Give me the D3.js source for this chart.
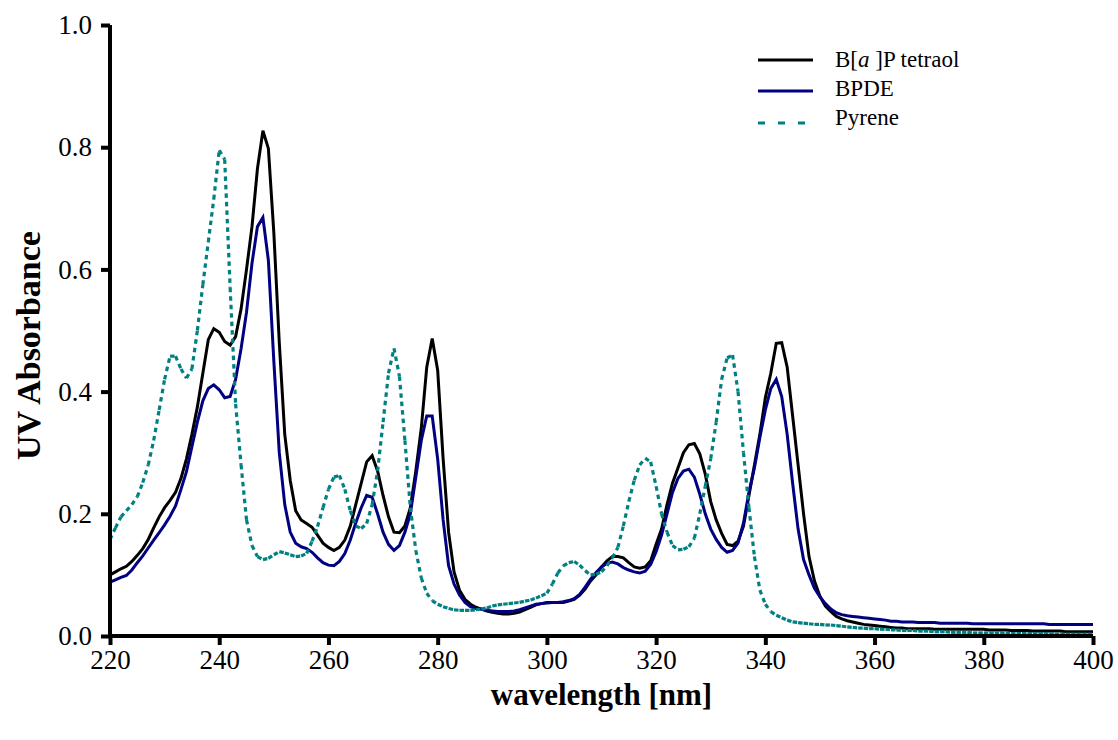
<!DOCTYPE html>
<html>
<head>
<meta charset="utf-8">
<script src="https://cdn.jsdelivr.net/npm/d3@7"></script>
<style>
  body { margin: 0; background: #fff; }
  svg { display: block; }
  text { font-family: "Liberation Serif", "Times New Roman", serif; }
</style>
</head>
<body>
<svg id="chart"></svg>
<script>
const WIDTH = 1118;
const HEIGHT = 740;

// Wavelength grid of the spectra, 1 nm steps (nm).
const wavelengths = d3.range(220, 401);

// B[a]P tetraol absorbance, 220..400 nm.
const tetraol = [
  0.100, 0.105, 0.110, 0.114, 0.122, 0.132, 0.143, 0.158, 0.177, 0.195,
  0.210, 0.222, 0.235, 0.258, 0.290, 0.330, 0.375, 0.430, 0.485, 0.503,
  0.497, 0.482, 0.476, 0.490, 0.535, 0.600, 0.670, 0.765, 0.827, 0.798,
  0.660, 0.480, 0.330, 0.255, 0.205, 0.190, 0.184, 0.178, 0.165, 0.152,
  0.145, 0.140, 0.145, 0.157, 0.180, 0.215, 0.250, 0.285, 0.295, 0.270,
  0.230, 0.195, 0.170, 0.169, 0.180, 0.210, 0.270, 0.340, 0.440, 0.487,
  0.435, 0.290, 0.170, 0.105, 0.075, 0.060, 0.052, 0.047, 0.044, 0.041,
  0.039, 0.037, 0.036, 0.036, 0.037, 0.039, 0.043, 0.047, 0.051, 0.053,
  0.055, 0.055, 0.055, 0.055, 0.057, 0.060, 0.067, 0.077, 0.090, 0.100,
  0.113, 0.123, 0.130, 0.130, 0.128, 0.120, 0.113, 0.111, 0.113, 0.123,
  0.150, 0.175, 0.215, 0.250, 0.275, 0.300, 0.313, 0.315, 0.298, 0.265,
  0.220, 0.190, 0.168, 0.150, 0.148, 0.155, 0.180, 0.230, 0.280, 0.330,
  0.390, 0.430, 0.479, 0.480, 0.440, 0.360, 0.280, 0.200, 0.130, 0.090,
  0.065, 0.049, 0.040, 0.032, 0.028, 0.025, 0.023, 0.021, 0.019, 0.018,
  0.017, 0.016, 0.015, 0.014, 0.013, 0.013, 0.012, 0.012, 0.012, 0.012,
  0.012, 0.011, 0.011, 0.011, 0.011, 0.011, 0.011, 0.011, 0.011, 0.011,
  0.011, 0.010, 0.010, 0.010, 0.010, 0.009, 0.009, 0.009, 0.009, 0.008,
  0.008, 0.008, 0.008, 0.008, 0.008, 0.007, 0.007, 0.007, 0.007, 0.007,
  0.007
];

// BPDE absorbance, 220..400 nm.
const bpde = [
  0.088, 0.092, 0.096, 0.099, 0.108, 0.120, 0.131, 0.144, 0.157, 0.169,
  0.182, 0.196, 0.213, 0.240, 0.269, 0.310, 0.350, 0.385, 0.405, 0.411,
  0.403, 0.390, 0.392, 0.420, 0.470, 0.530, 0.610, 0.670, 0.685, 0.615,
  0.450, 0.300, 0.215, 0.170, 0.152, 0.146, 0.143, 0.137, 0.128, 0.120,
  0.116, 0.115, 0.122, 0.135, 0.157, 0.185, 0.210, 0.230, 0.227, 0.200,
  0.170, 0.150, 0.140, 0.148, 0.170, 0.200, 0.260, 0.320, 0.360, 0.360,
  0.290, 0.190, 0.115, 0.085, 0.067, 0.055, 0.048, 0.045, 0.044, 0.042,
  0.041, 0.040, 0.040, 0.040, 0.041, 0.043, 0.046, 0.049, 0.052, 0.053,
  0.054, 0.055, 0.055, 0.056, 0.058, 0.061, 0.068, 0.080, 0.093, 0.104,
  0.113, 0.119, 0.121, 0.118, 0.112, 0.108, 0.105, 0.103, 0.106, 0.117,
  0.138, 0.165, 0.200, 0.235, 0.258, 0.270, 0.273, 0.260, 0.232, 0.200,
  0.175, 0.158, 0.145, 0.137, 0.140, 0.152, 0.185, 0.235, 0.275, 0.325,
  0.370, 0.405, 0.420, 0.392, 0.330, 0.250, 0.175, 0.125, 0.100, 0.078,
  0.064, 0.053, 0.044, 0.038, 0.035, 0.033, 0.032, 0.031, 0.030, 0.029,
  0.028, 0.027, 0.026, 0.024, 0.024, 0.023, 0.023, 0.023, 0.022, 0.022,
  0.022, 0.022, 0.021, 0.021, 0.021, 0.021, 0.021, 0.021, 0.020, 0.020,
  0.020, 0.020, 0.020, 0.020, 0.020, 0.020, 0.020, 0.020, 0.020, 0.020,
  0.020, 0.020, 0.019, 0.019, 0.019, 0.019, 0.019, 0.019, 0.019, 0.019,
  0.019
];

// Pyrene absorbance, 220..400 nm.
const pyrene = [
  0.158, 0.177, 0.195, 0.205, 0.215, 0.228, 0.251, 0.280, 0.320, 0.370,
  0.420, 0.458, 0.458, 0.437, 0.422, 0.437, 0.500, 0.575, 0.645, 0.715,
  0.795, 0.780, 0.570, 0.380, 0.280, 0.190, 0.148, 0.130, 0.125, 0.127,
  0.133, 0.138, 0.136, 0.133, 0.130, 0.131, 0.135, 0.155, 0.179, 0.210,
  0.240, 0.260, 0.263, 0.240, 0.205, 0.180, 0.176, 0.184, 0.215, 0.270,
  0.350, 0.430, 0.471, 0.425, 0.320, 0.210, 0.140, 0.095, 0.070, 0.058,
  0.052, 0.048, 0.045, 0.043, 0.042, 0.042, 0.042, 0.043, 0.044, 0.046,
  0.049, 0.051, 0.052, 0.053, 0.054, 0.055, 0.057, 0.059, 0.062, 0.066,
  0.070, 0.085, 0.103, 0.115, 0.120, 0.122, 0.116, 0.107, 0.100, 0.101,
  0.105, 0.115, 0.128, 0.145, 0.180, 0.220, 0.255, 0.280, 0.291, 0.285,
  0.245, 0.200, 0.170, 0.148, 0.141, 0.142, 0.146, 0.160, 0.200, 0.245,
  0.290, 0.350, 0.420, 0.455, 0.460, 0.400, 0.300, 0.210, 0.130, 0.075,
  0.052, 0.040, 0.034, 0.030, 0.026, 0.023, 0.022, 0.021, 0.020, 0.019,
  0.019, 0.018, 0.018, 0.017, 0.016, 0.015, 0.014, 0.013, 0.013, 0.012,
  0.012, 0.011, 0.011, 0.010, 0.010, 0.009, 0.009, 0.009, 0.008, 0.008,
  0.008, 0.007, 0.007, 0.007, 0.006, 0.006, 0.006, 0.006, 0.005, 0.005,
  0.005, 0.005, 0.005, 0.005, 0.004, 0.004, 0.004, 0.004, 0.004, 0.004,
  0.004, 0.004, 0.004, 0.003, 0.003, 0.003, 0.003, 0.003, 0.003, 0.003,
  0.003
];

const xTicks = [220, 240, 260, 280, 300, 320, 340, 360, 380, 400];
const yTicks = [0, 0.2, 0.4, 0.6, 0.8, 1.0];

const series = [
  {name: 'tetraol', values: tetraol, color: '#000000', dashed: false},
  {name: 'BPDE', values: bpde, color: '#000080', dashed: false},
  {name: 'Pyrene', values: pyrene, color: '#008080', dashed: true}
];

const margin = {top: 25, right: 25, bottom: 104, left: 110};

const svg = d3
  .select('#chart')
  .attr('width', WIDTH)
  .attr('height', HEIGHT)
  .attr('viewBox', `0 0 ${WIDTH} ${HEIGHT}`);

const x = d3.scaleLinear().domain([220, 400]).range([margin.left, WIDTH - margin.right]);
const y = d3.scaleLinear().domain([0, 1]).range([HEIGHT - margin.bottom, margin.top]);

// Curves first, axes drawn over them.
const line = d3
  .line()
  .x(d => x(d[0]))
  .y(d => y(d[1]));

for (const s of series) {
  const pts = wavelengths.map((w, i) => [w, s.values[i]]);
  if (!s.dashed) {
    svg
      .append('path')
      .datum(pts)
      .attr('d', line)
      .attr('fill', 'none')
      .attr('stroke', s.color)
      .attr('stroke-width', 3)
      .attr('stroke-linejoin', 'miter');
  } else {
    // The original restarts the dash pattern on every data segment,
    // so flat parts look almost solid.
    svg
      .append('g')
      .selectAll('line')
      .data(d3.pairs(pts))
      .join('line')
      .attr('x1', d => x(d[0][0]))
      .attr('y1', d => y(d[0][1]))
      .attr('x2', d => x(d[1][0]))
      .attr('y2', d => y(d[1][1]))
      .attr('stroke', s.color)
      .attr('stroke-width', 3.2)
      .attr('stroke-dasharray', '4.5,4');
  }
}

// Axes.
const xAxis = svg
  .append('g')
  .attr('transform', `translate(0,${y(0)})`)
  .call(d3.axisBottom(x).tickValues(xTicks).tickSize(9).tickPadding(5).tickFormat(d3.format('d')));

const yAxis = svg
  .append('g')
  .attr('transform', `translate(${x(220)},0)`)
  .call(d3.axisLeft(y).tickValues(yTicks).tickSize(9).tickPadding(9).tickFormat(d3.format('.1f')));

for (const ax of [xAxis, yAxis]) {
  ax.select('.domain').attr('stroke', '#000').attr('stroke-width', 4);
  ax.selectAll('.tick line').attr('stroke', '#000').attr('stroke-width', 4);
  ax.selectAll('.tick text')
    .attr('fill', '#000')
    .style('font-family', '"Liberation Serif", serif')
    .style('font-size', '27px');
}
xAxis.select('.domain').attr('d', `M${x(220)},0H${x(400)}`);
yAxis.select('.domain').attr('d', `M0,${y(0)}V${y(1)}`);

// Axis titles.
svg
  .append('text')
  .attr('x', (x(220) + x(400)) / 2)
  .attr('y', 705)
  .attr('text-anchor', 'middle')
  .style('font-size', '31px')
  .style('font-weight', 'bold')
  .text('wavelength [nm]');

svg
  .append('text')
  .attr('transform', `translate(40,${(y(0) + y(1)) / 2 + 15}) rotate(-90)`)
  .attr('text-anchor', 'middle')
  .style('font-size', '34px')
  .style('font-weight', 'bold')
  .text('UV Absorbance');

// Legend.
const legendRows = [
  {label: 'tetraol', color: '#000000', dash: null, y: 60},
  {label: 'BPDE', color: '#000080', dash: null, y: 89},
  {label: 'Pyrene', color: '#008080', dash: '7,13', y: 118}
];

const legend = svg.append('g');
legendRows.forEach(r => {
  const ly = r.label === 'Pyrene' ? r.y + 5 : r.label === 'BPDE' ? r.y + 2 : r.y;
  legend
    .append('line')
    .attr('x1', 758)
    .attr('x2', 813)
    .attr('y1', ly)
    .attr('y2', ly)
    .attr('stroke', r.color)
    .attr('stroke-width', 3)
    .attr('stroke-dasharray', r.dash);
  const t = legend
    .append('text')
    .attr('x', 835)
    .attr('y', r.y + 7)
    .style('font-size', '23px');
  if (r.label === 'tetraol') {
    t.append('tspan').text('B[');
    t.append('tspan').style('font-style', 'italic').text('a');
    t.append('tspan').text(' ]P tetraol');
  } else {
    t.text(r.label);
  }
});
</script>
</body>
</html>
